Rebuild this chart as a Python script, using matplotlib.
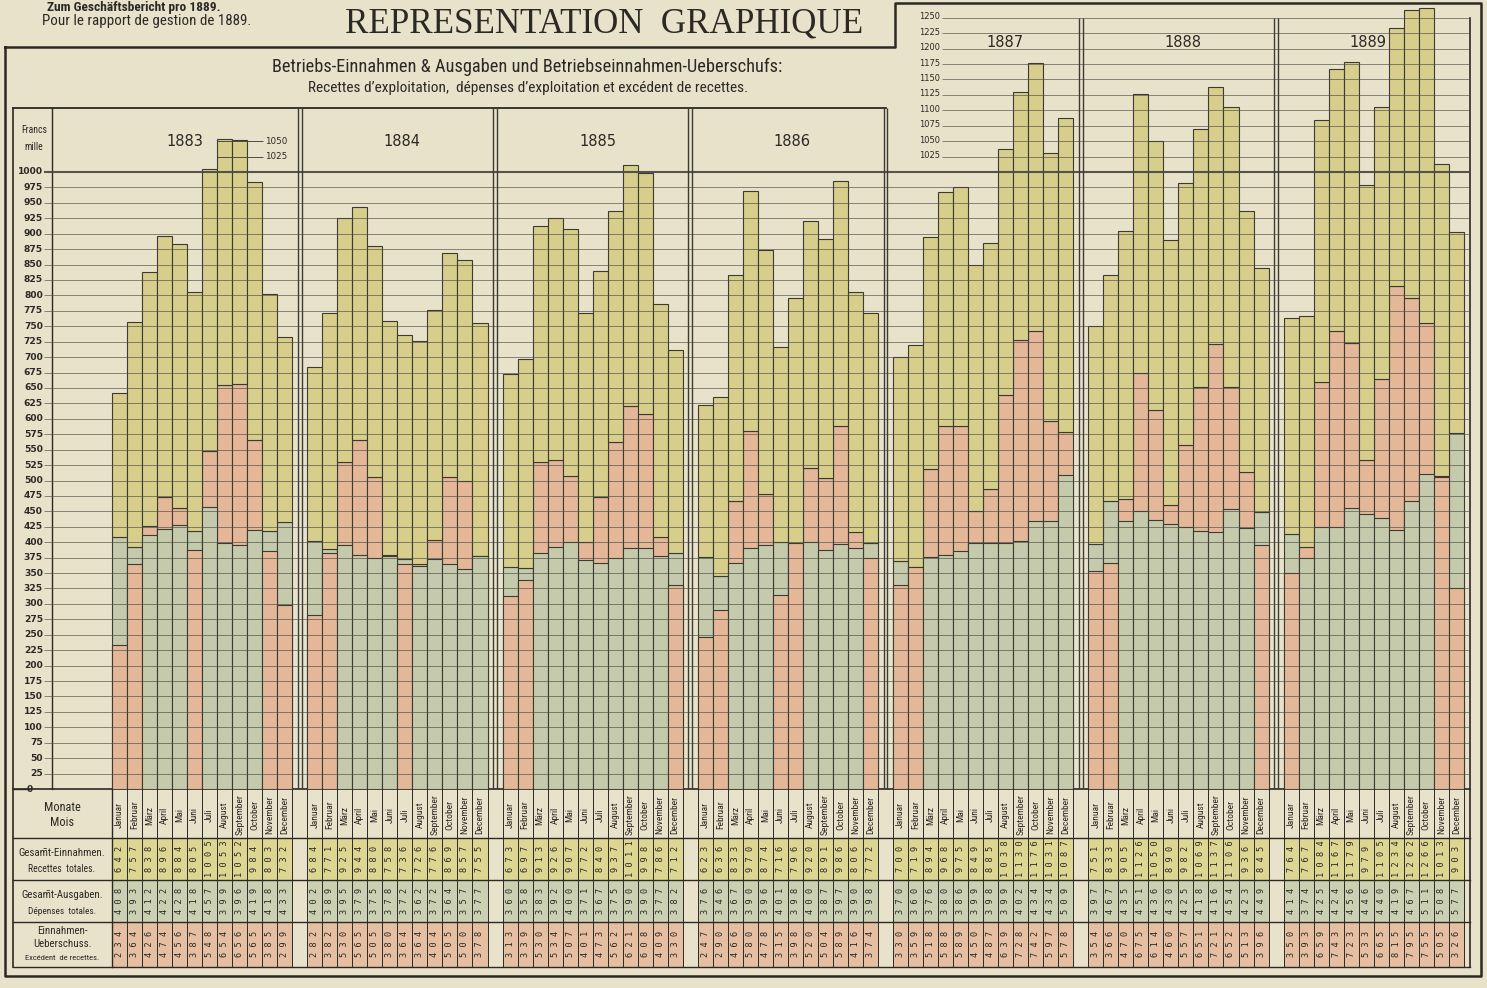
import matplotlib
matplotlib.use('Agg')
import matplotlib.pyplot as plt
from matplotlib import font_manager
import numpy as np

# ---------------- data ----------------
years = [1883, 1884, 1885, 1886, 1887, 1888, 1889]
months = ['Januar', 'Februar', 'März', 'April', 'Mai', 'Juni', 'Juli',
          'August', 'September', 'October', 'November', 'December']

# Gesamt-Einnahmen / Recettes totales (1000 Francs)
einnahmen = [
    [642, 757, 838, 896, 884, 805, 1005, 1053, 1052, 984, 803, 732],
    [684, 771, 925, 944, 880, 758, 736, 726, 776, 869, 857, 755],
    [673, 697, 913, 926, 907, 772, 840, 937, 1011, 998, 786, 712],
    [623, 636, 833, 970, 874, 716, 796, 920, 891, 986, 806, 772],
    [700, 719, 894, 968, 975, 849, 885, 1038, 1130, 1176, 1031, 1087],
    [751, 833, 905, 1126, 1050, 890, 982, 1069, 1137, 1106, 936, 845],
    [764, 767, 1084, 1167, 1179, 979, 1105, 1234, 1262, 1266, 1013, 903],
]
# Gesamt-Ausgaben / Dépenses totales
ausgaben = [
    [408, 393, 412, 422, 428, 418, 457, 399, 396, 419, 418, 433],
    [402, 389, 395, 379, 375, 378, 372, 362, 372, 364, 357, 377],
    [360, 358, 383, 392, 400, 371, 367, 375, 390, 390, 377, 382],
    [376, 346, 367, 390, 396, 401, 398, 400, 387, 397, 390, 398],
    [370, 360, 376, 380, 386, 399, 398, 399, 402, 434, 434, 509],
    [397, 467, 435, 451, 436, 430, 425, 418, 416, 454, 423, 449],
    [414, 374, 425, 424, 456, 446, 440, 419, 467, 511, 508, 577],
]
# Einnahmen-Ueberschuss / Excédent de recettes
ueberschuss = [
    [234, 364, 426, 474, 456, 387, 548, 654, 656, 565, 385, 299],
    [282, 382, 530, 565, 505, 380, 364, 364, 404, 505, 500, 378],
    [313, 339, 530, 534, 507, 401, 473, 562, 621, 608, 409, 330],
    [247, 290, 466, 580, 478, 315, 398, 520, 504, 589, 416, 374],
    [330, 359, 518, 588, 589, 450, 487, 639, 728, 742, 597, 578],
    [354, 366, 470, 675, 614, 460, 557, 651, 721, 652, 513, 396],
    [350, 393, 659, 743, 723, 533, 665, 815, 795, 755, 505, 326],
]
lower_ticks = list(range(0, 1001, 25))
upper_ticks = list(range(1025, 1251, 25))

# ---------------- style ----------------
BG = '#e9e2cb'
YELLOW = '#d6ce8a'
PINK = '#e3b797'
GREEN = '#c4caab'
T_YELLOW = '#ddd592'
T_PINK = '#e6bea2'
T_GREEN = '#cbd0b3'
EDGE = '#3b3a33'
INK = '#2a2924'
GRID = '#4d4c44'

avail = {f.name for f in font_manager.fontManager.ttflist}
def pick(*cands):
    for c in cands:
        if c in avail:
            return c
    return 'DejaVu Sans'
NARROW = pick('Liberation Sans Narrow', 'Roboto Condensed', 'Open Sans Condensed', 'DejaVu Sans')
NARROW_L = [NARROW, 'DejaVu Sans']
SERIF = pick('Liberation Serif', 'DejaVu Serif')
MONO = pick('DejaVu Sans Mono', 'Liberation Mono')

W, H = 1487, 988
fig = plt.figure(figsize=(W / 100, H / 100), dpi=100)
fig.patch.set_facecolor(BG)
bg = fig.add_axes([0, 0, 1, 1])
bg.set_xlim(0, W)
bg.set_ylim(H, 0)
bg.axis('off')

X0, CW = 112.0, 15.02     # pixel of first column, column width
Y0, S = 789.0, 0.617      # pixel of value 0, pixels per unit

def px(col):
    return X0 + CW * col

def py(v):
    return Y0 - S * v

ax = fig.add_axes([52 / W, (H - 789) / H, (1470 - 52) / W, 786 / H])
ax.set_xlim((52 - X0) / CW, (1470 - X0) / CW)
ax.set_ylim(0, 786 / S)
ax.axis('off')
ax.patch.set_alpha(0)

renderer = fig.canvas.get_renderer()

def fit_text(axis, x, y, s, width, family, **kw):
    t = axis.text(x, y, s, family=family, fontsize=10, **kw)
    w = t.get_window_extent(renderer).width
    t.set_fontsize(10 * width / w)
    return t

# ---------------- bars ----------------
E = np.array(einnahmen, dtype=float)
A = np.array(ausgaben, dtype=float)
U = np.array(ueberschuss, dtype=float)
xs = np.array([[yi * 13 + m for m in range(12)] for yi in range(len(years))], dtype=float).ravel()
e, a, u = E.ravel(), A.ravel(), U.ravel()
hi = np.maximum(a, u)
lo = np.minimum(a, u)
c_hi = [GREEN if aa >= uu else PINK for aa, uu in zip(a, u)]
c_lo = [PINK if aa >= uu else GREEN for aa, uu in zip(a, u)]
ax.bar(xs, hi, width=1, align='edge', color=c_hi, edgecolor=EDGE, linewidth=0.8, zorder=2)
ax.bar(xs, lo, width=1, align='edge', color=c_lo, edgecolor=EDGE, linewidth=0.8, zorder=3)
ax.bar(xs, e - hi, bottom=hi, width=1, align='edge', color=YELLOW, edgecolor=EDGE,
       linewidth=0.8, zorder=2)

# ---------------- grid ----------------
xl_left = (44 - X0) / CW
xl_right = (1470 - X0) / CW
for v in lower_ticks[1:]:
    ax.hlines(v, xl_left, xl_right, colors=GRID, linewidth=1.5 if v == 1000 else 0.6,
              alpha=0.95 if v == 1000 else 0.75, zorder=4, clip_on=False)
    bg.text(43, py(v), str(v), ha='right', va='center', fontsize=6.6, fontweight='bold',
            family='DejaVu Sans', color=INK)
bg.text(33, py(0), '0', ha='right', va='center', fontsize=6.6, fontweight='bold',
        family='DejaVu Sans', color=INK)
bg.plot([14, 29], [py(0), py(0)], color=INK, lw=1.0)

ux_left = (942 - X0) / CW
for v in upper_ticks:
    ax.hlines(v, ux_left, xl_right, colors=GRID, linewidth=0.6, alpha=0.75, zorder=4, clip_on=False)
    bg.text(940, py(v) - 1, str(v), ha='right', va='center', fontsize=6.0,
            family='DejaVu Sans', color=INK)

# small 1025/1050 marks in 1883
for v in (1025, 1050):
    ax.hlines(v, 7, (263 - X0) / CW, colors=GRID, linewidth=0.7, zorder=4)
    bg.text(265, py(v), str(v), ha='left', va='center', fontsize=6.3,
            family='DejaVu Sans', color=INK)

# year dividers
for k in range(6):
    c = 12.5 + 13 * k
    top = 1250 if k >= 4 else 1104
    for off in (-0.12, 0.12):
        ax.vlines(c + off, 0, top, colors=EDGE, linewidth=1.0, zorder=5)

# year labels (drawn above the bars)
year_px = [185, 402, 598, 792, 1005, 1183, 1368]
for yr, xp in zip(years, year_px):
    yv = 1050 if yr < 1887 else 1210
    ax.text(xp, py(yv), str(yr), ha='center', va='center', fontsize=10.5,
            family='DejaVu Sans', color=INK, transform=bg.transData, zorder=6)

# ---------------- frames ----------------
bg.plot([5, 895, 895, 1481, 1481, 5, 5], [47, 47, 3, 3, 976, 976, 47], color=INK, lw=1.8)
bg.plot([13, 13], [py(1104), 967], color=INK, lw=1.2)
bg.plot([13, px(51.5)], [py(1104), py(1104)], color=INK, lw=1.3)
bg.plot([52, 52], [py(1104), Y0], color=INK, lw=1.0)
bg.plot([1470, 1470], [py(1250), 967], color=INK, lw=1.2)
bg.text(34, 130, 'Francs', ha='center', va='center', fontsize=7, family=NARROW_L, color=INK)
bg.text(34, 147, 'mille', ha='center', va='center', fontsize=7, family=NARROW_L, color=INK)

# ---------------- table ----------------
row_y = [Y0, 838, 880, 922, 967]
for yy in row_y:
    bg.plot([13, 1470], [yy, yy], color=INK, lw=1.0 if yy != Y0 else 1.2)
ncol = 7 * 13 - 1
for yi in range(len(years)):
    for m in range(12):
        c = yi * 13 + m
        x_l = px(c)
        for (r0, r1, col) in ((838, 880, T_YELLOW), (880, 922, T_GREEN), (922, 967, T_PINK)):
            bg.add_patch(plt.Rectangle((x_l, r0), CW, r1 - r0, facecolor=col, edgecolor='none', zorder=0))
for c in range(ncol + 1):
    bg.plot([px(c), px(c)], [Y0, 967], color=INK, lw=0.7)
bg.plot([112, 112], [Y0, 967], color=INK, lw=1.0)

def spaced(n):
    return ' '.join(str(int(n)))

for yi in range(len(years)):
    for m in range(12):
        xc = px(yi * 13 + m) + CW / 2
        bg.text(xc, 815, months[m], rotation=90, ha='center', va='center',
                fontsize=6.8, family=NARROW_L, color=INK)
        bg.text(xc, 859, spaced(einnahmen[yi][m]), rotation=90, ha='center', va='center',
                fontsize=6.2, family=MONO, color=INK)
        bg.text(xc, 901, spaced(ausgaben[yi][m]), rotation=90, ha='center', va='center',
                fontsize=6.2, family=MONO, color=INK)
        bg.text(xc, 944, spaced(ueberschuss[yi][m]), rotation=90, ha='center', va='center',
                fontsize=6.2, family=MONO, color=INK)

LX = 62
bg.text(LX, 807, 'Monate', ha='center', va='center', fontsize=8.8, family=NARROW_L, color=INK)
bg.text(LX, 822, 'Mois', ha='center', va='center', fontsize=8.8, family=NARROW_L, color=INK)
bg.text(LX, 853, 'Gesam\u0304t-Einnahmen.', ha='center', va='center', fontsize=7.8, family=NARROW_L, color=INK)
bg.text(LX, 869, 'Recettes  totales.', ha='center', va='center', fontsize=6.9, family=NARROW_L, color=INK)
bg.text(LX, 895, 'Gesam\u0304t-Ausgaben.', ha='center', va='center', fontsize=7.8, family=NARROW_L, color=INK)
bg.text(LX, 911, 'Dépenses  totales.', ha='center', va='center', fontsize=6.7, family=NARROW_L, color=INK)
bg.text(LX, 931, 'Einnahmen-', ha='center', va='center', fontsize=7.8, family=NARROW_L, color=INK)
bg.text(LX, 944, 'Ueberschuss.', ha='center', va='center', fontsize=7.8, family=NARROW_L, color=INK)
bg.text(LX, 958, 'Excédent  de recettes.', ha='center', va='center', fontsize=6.1, family=NARROW_L, color=INK)

# ---------------- titles ----------------
fit_text(bg, 272, 67, 'Betriebs-Einnahmen & Ausgaben und Betriebseinnahmen-Ueberschufs:', 506,
         NARROW_L, ha='left', va='center', color=INK)
fit_text(bg, 308, 88, 'Recettes d\u2019exploitation,  dépenses d\u2019exploitation et excédent de recettes.', 438,
         NARROW_L, ha='left', va='center', color=INK)
bg.text(134, 1.0, 'Zum Geschäftsbericht pro 1889.', ha='center', va='top', fontsize=9.6,
        family=NARROW_L, fontweight='bold', color=INK)
fit_text(bg, 42, 21, 'Pour le rapport de gestion de 1889.', 208, NARROW_L, ha='left', va='center', color=INK)
fit_text(bg, 345, 33, 'REPRESENTATION  GRAPHIQUE', 520, SERIF, ha='left', va='baseline', color=INK)

fig.savefig('out.png', dpi=100, facecolor=BG)
